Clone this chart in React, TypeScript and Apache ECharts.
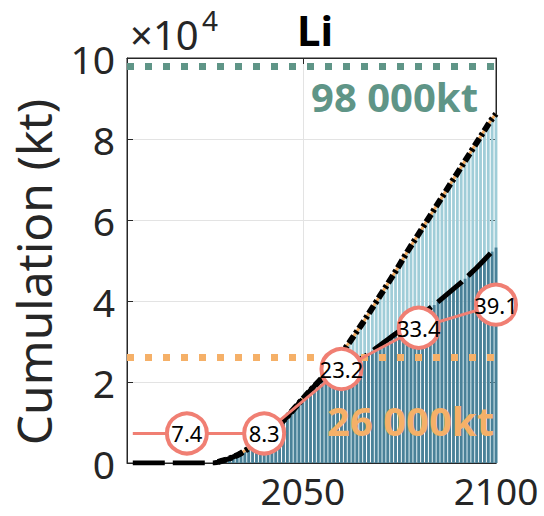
import React, { useEffect, useRef } from "react";
import * as echarts from "echarts";

// Cumulative Li demand, unit: 10^4 kt
const firstBarYear = 2028;
const totalCum = [
  0.02, 0.05, 0.08, 0.11, 0.15, 0.19, 0.24, 0.3, 0.36, 0.43, 0.5, 0.56, 0.63, 0.7, 0.77, 0.86, 0.95,
  1.05, 1.15, 1.26, 1.37, 1.48, 1.58, 1.69, 1.8, 1.9, 2.0, 2.1, 2.21, 2.33, 2.45, 2.58, 2.71, 2.84,
  2.97, 3.11, 3.25, 3.39, 3.53, 3.68, 3.83, 3.98, 4.13, 4.28, 4.43, 4.58, 4.73, 4.89, 5.05, 5.21,
  5.36, 5.51, 5.66, 5.81, 5.96, 6.11, 6.26, 6.41, 6.56, 6.71, 6.86, 7.01, 7.16, 7.31, 7.46, 7.61,
  7.76, 7.91, 8.06, 8.21, 8.36, 8.5, 8.62,
];
const lowerCum = [
  0.02, 0.05, 0.08, 0.11, 0.15, 0.19, 0.24, 0.3, 0.36, 0.43, 0.5, 0.56, 0.63, 0.7, 0.77, 0.86, 0.95,
  1.05, 1.15, 1.26, 1.37, 1.48, 1.58, 1.69, 1.8, 1.9, 2.0, 2.07, 2.14, 2.2, 2.26, 2.32, 2.37, 2.41,
  2.45, 2.49, 2.53, 2.57, 2.63, 2.7, 2.77, 2.84, 2.91, 2.98, 3.05, 3.12, 3.19, 3.26, 3.33, 3.4,
  3.48, 3.55, 3.62, 3.69, 3.76, 3.83, 3.9, 3.98, 4.06, 4.14, 4.22, 4.3, 4.38, 4.46, 4.55, 4.64,
  4.73, 4.82, 4.92, 5.02, 5.12, 5.22, 5.32,
];
// flat start of the cumulative curves before the bars begin
const earlyYears = [2006, 2027];
const earlyValues = [0, 0];

// reserves / resources lines (10^4 kt)
const reserveHigh = 9.8;
const reserveHighLabel = "98 000kt";
const reserveLow = 2.6;
const reserveLowLabel = "26 000kt";

// salmon marker line
const salmonStartYear = 2006;
const salmonYears = [2020, 2040, 2060, 2080, 2100];
const salmonHeights = [0.73, 0.73, 2.32, 3.34, 3.91];
const salmonLabels = ["7.4", "8.3", "23.2", "33.4", "39.1"];

const xTicks = [2050, 2100];
const xMin = 2004.5;
const xMax = 2100;

const INK = "#262626";
const GREEN = "#5F9587";
const ORANGE = "#F5B068";
const SALMON = "#F07F73";
const FONT = "Noto Sans";

export default function App() {
  const ref = useRef<HTMLDivElement>(null);
  useEffect(() => {
    const chart = echarts.init(ref.current!, null, { renderer: "svg" });
    const years = totalCum.map((_, i) => firstBarYear + i);
    const totalPts = years.map((y, i) => [y, totalCum[i]]);
    const lowerPts = years.map((y, i) => [y, lowerCum[i]]);
    const early = earlyYears.map((y, i) => [y, earlyValues[i]]);
    const salmonData: any[] = [
      { value: [salmonStartYear, salmonHeights[0]], symbol: "none", label: { show: false } },
      ...salmonYears.map((y, i) => ({ value: [y, salmonHeights[i]] })),
    ];
    const option: any = {
      animation: false,
      grid: {
        left: 127,
        right: 48,
        top: 58,
        bottom: 53,
        show: true,
        borderColor: INK,
        borderWidth: 1,
        backgroundColor: "transparent",
      },
      xAxis: [
        {
          type: "value",
          min: xMin,
          max: xMax,
          position: "bottom",
          axisLine: { show: true, onZero: false, lineStyle: { color: INK } },
          axisTick: { show: true, inside: true, length: 6, customValues: xTicks, lineStyle: { color: INK } },
          axisLabel: {
            customValues: xTicks,
            formatter: (v: number) => String(v),
            fontSize: 37,
            lineHeight: 37,
            color: INK,
            fontFamily: FONT,
            margin: 9,
          },
          splitLine: { show: true, lineStyle: { color: "#E3E3E3" } },
        },
        {
          type: "value",
          min: xMin,
          max: xMax,
          position: "top",
          axisLine: { show: true, onZero: false, lineStyle: { color: INK } },
          axisTick: { show: true, inside: true, length: 6, customValues: xTicks, lineStyle: { color: INK } },
          axisLabel: { show: false },
          splitLine: { show: false },
        },
      ],
      yAxis: [
        {
          type: "value",
          min: 0,
          max: 10,
          interval: 2,
          axisLine: { show: true, onZero: false, lineStyle: { color: INK } },
          axisTick: { show: true, inside: true, length: 6, lineStyle: { color: INK } },
          axisLabel: { fontSize: 39, lineHeight: 39, color: INK, fontFamily: FONT, margin: 12 },
          splitLine: { show: true, lineStyle: { color: "#E3E3E3" } },
        },
        {
          type: "value",
          min: 0,
          max: 10,
          interval: 2,
          position: "right",
          axisLine: { show: true, onZero: false, lineStyle: { color: INK } },
          axisTick: { show: true, inside: true, length: 6, lineStyle: { color: INK } },
          axisLabel: { show: false },
          splitLine: { show: false },
        },
      ],
      series: [
        {
          type: "bar",
          data: totalPts,
          barWidth: 2.8,
          barGap: "-100%",
          itemStyle: { color: "#A0CDD8" },
          z: 1,
          silent: true,
        },
        {
          type: "bar",
          data: lowerPts,
          barWidth: 2.8,
          barGap: "-100%",
          itemStyle: { color: "#4A8198" },
          z: 1,
          silent: true,
          markLine: {
            symbol: "none",
            silent: true,
            label: { show: false },
            data: [
              { yAxis: reserveHigh, lineStyle: { color: GREEN, width: 7, type: [7, 11], cap: "butt" } },
              { yAxis: reserveLow, lineStyle: { color: ORANGE, width: 7, type: [7, 11], cap: "butt" } },
            ],
          },
        },
        {
          type: "line",
          data: totalPts,
          symbol: "none",
          lineStyle: { color: ORANGE, width: 3 },
          z: 3,
          silent: true,
        },
        {
          type: "line",
          data: totalPts,
          symbol: "none",
          lineStyle: { color: "#000", width: 6, type: [9, 3, 3, 3], cap: "butt" },
          z: 4,
          silent: true,
        },
        {
          type: "line",
          data: [...early, ...lowerPts],
          symbol: "none",
          lineStyle: { color: "#000", width: 5, type: [32, 8], cap: "butt" },
          z: 4,
          silent: true,
        },
        {
          type: "line",
          data: salmonData,
          symbol: "circle",
          symbolSize: 40,
          clip: false,
          itemStyle: { color: "#fff", borderColor: SALMON, borderWidth: 4 },
          lineStyle: { color: SALMON, width: 3 },
          label: {
            show: true,
            position: "inside",
            formatter: (p: any) => salmonLabels[p.dataIndex - 1],
            fontSize: 22,
            color: "#000",
            fontFamily: FONT,
          },
          z: 10,
          silent: true,
        },
      ],
      graphic: [
        {
          type: "text",
          z: 100,
          x: 478,
          y: 96,
          style: {
            text: reserveHighLabel,
            fill: GREEN,
            font: `bold 40px "${FONT}"`,
            textAlign: "right",
            textVerticalAlign: "middle",
          },
        },
        {
          type: "text",
          z: 100,
          x: 494,
          y: 420,
          style: {
            text: reserveLowLabel,
            fill: ORANGE,
            font: `bold 40px "${FONT}"`,
            textAlign: "right",
            textVerticalAlign: "middle",
          },
        },
        {
          type: "text",
          z: 100,
          x: 315,
          y: 29,
          style: {
            text: "Li",
            fill: "#000",
            font: `bold 42px "${FONT}"`,
            textAlign: "center",
            textVerticalAlign: "middle",
          },
        },
        {
          type: "text",
          z: 100,
          x: 130,
          y: 34,
          style: {
            text: "×10",
            fill: INK,
            font: `40px "${FONT}"`,
            textAlign: "left",
            textVerticalAlign: "middle",
          },
        },
        {
          type: "text",
          z: 100,
          x: 202,
          y: 20,
          style: {
            text: "4",
            fill: INK,
            font: `28px "${FONT}"`,
            textAlign: "left",
            textVerticalAlign: "middle",
          },
        },
        {
          type: "text",
          z: 100,
          x: 33,
          y: 272,
          rotation: Math.PI / 2,
          style: {
            text: "Cumulation (kt)",
            fill: INK,
            font: `48px "${FONT}"`,
            textAlign: "center",
            textVerticalAlign: "middle",
          },
        },
      ],
    };
    chart.setOption(option);
    return () => chart.dispose();
  }, []);
  return (
    <div
      ref={ref}
      style={{ position: "fixed", left: 0, top: 0, width: 544, height: 516, background: "#fff" }}
    />
  );
}
